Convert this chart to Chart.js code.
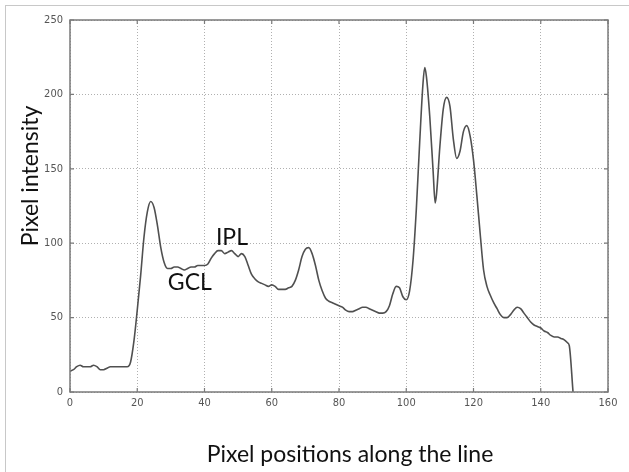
<!DOCTYPE html>
<html><head><meta charset="utf-8">
<script src="https://cdn.jsdelivr.net/npm/chart.js@4/dist/chart.umd.min.js"></script>
<style>
html,body{margin:0;padding:0;background:#fff;}
#frame{position:absolute;left:5px;top:5px;width:624px;height:467px;border-left:1px solid #c8c8c8;border-top:1px solid #c8c8c8;}
#wrap{position:absolute;left:0;top:0;width:629px;height:472px;}
</style></head><body>
<div id="frame"></div>
<div id="wrap"><canvas id="c" width="629" height="472"></canvas></div>
<script>
const positions = [0,1,2,3,4,5,6,7,8,9,10,11,12,13,14,15,16,17,18,19,20,21,22,23,24,25,26,27,28,29,30,31,32,33,34,35,36,37,38,39,40,41,42,43,44,45,46,47,48,49,50,51,52,53,54,55,56,57,58,59,60,61,62,63,64,65,66,67,68,69,70,71,72,73,74,75,76,77,78,79,80,81,82,83,84,85,86,87,88,89,90,91,92,93,94,95,96,97,98,99,100,101,102,103,104,105,105.5,106,107,108,108.6,109,110,111,112,113,114,115,116,117,118,119,120,121,122,123,124,125,126,127,128,129,130,131,132,133,134,135,136,137,138,139,140,141,142,143,144,145,146,147,148,148.5,149.6];
const intensity = [14,15,17,18,17,17,17,18,17,15,15,16,17,17,17,17,17,17,20,34,55,78,104,121,128,124,112,97,87,83,83,84,84,83,82,83,84,84,85,85,85,86,90,93,95,95,93,94,95,93,91,93,91,85,79,76,74,73,72,71,72,71,69,69,69,70,71,75,82,91,96,97,93,85,75,68,63,61,60,59,58,57,55,54,54,55,56,57,57,56,55,54,53,53,54,58,66,71,70,64,62,68,88,123,168,208,218,212,185,148,127,133,165,190,198,192,170,157,162,175,179,172,156,132,106,82,71,65,60,56,52,50,50,52,55,57,56,53,50,47,45,44,43,41,40,38,37,37,36,35,33,31,0];
const xTickValues = [0,20,40,60,80,100,120,140,160];
const yTickValues = [0,50,100,150,200,250];
const xTitle = 'Pixel positions along the line';
const yTitle = 'Pixel intensity';
const noteTexts = ['GCL','IPL'];
const noteX = [29.1, 43.4];
const noteY = [68.4, 98.5];

const tickFont = {family:"'Liberation Sans Narrow','DejaVu Sans Condensed','Liberation Sans',sans-serif", size:11};
const titleFont = "23px Lato, 'Open Sans', sans-serif";
const noteFont = "23px Lato, 'Open Sans', sans-serif";
const boxColor = '#7a7a7a';

const overlay = {
  id:'overlay',
  afterDraw(chart){
    const ctx = chart.ctx, a = chart.chartArea;
    const xs = chart.scales.x, ys = chart.scales.y;
    ctx.save();
    ctx.strokeStyle = boxColor; ctx.lineWidth = 1.5; ctx.setLineDash([]);
    ctx.strokeRect(a.left, a.top, a.right-a.left, a.bottom-a.top);
    ctx.lineWidth = 1.2;
    ctx.beginPath();
    xTickValues.forEach(v=>{ const p = xs.getPixelForValue(v);
      ctx.moveTo(p, a.top); ctx.lineTo(p, a.top+4);
      ctx.moveTo(p, a.bottom); ctx.lineTo(p, a.bottom-4); });
    yTickValues.forEach(v=>{ const p = ys.getPixelForValue(v);
      ctx.moveTo(a.left, p); ctx.lineTo(a.left+4, p);
      ctx.moveTo(a.right, p); ctx.lineTo(a.right-4, p); });
    ctx.stroke();
    ctx.fillStyle = '#111';
    ctx.font = noteFont;
    ctx.textAlign = 'left'; ctx.textBaseline = 'alphabetic';
    noteTexts.forEach((t,i)=>{
      ctx.fillText(t, xs.getPixelForValue(noteX[i]), ys.getPixelForValue(noteY[i]));
    });
    ctx.font = titleFont;
    ctx.textAlign = 'center'; ctx.textBaseline = 'middle';
    ctx.fillText(xTitle, 350, 455);
    ctx.translate(31, 176); ctx.rotate(-Math.PI/2);
    ctx.fillText(yTitle, 0, 0);
    ctx.restore();
  }
};

new Chart(document.getElementById('c'), {
  type:'line',
  data:{ datasets:[{
    data: positions.map((p,i)=>({x:p, y:intensity[i]})),
    borderColor:'#505050', borderWidth:1.6, pointRadius:0,
    cubicInterpolationMode:'monotone', fill:false
  }]},
  options:{
    responsive:false, animation:false, devicePixelRatio:1,
    layout:{padding:{top:20,right:21,left:0,bottom:0}},
    plugins:{legend:{display:false}, tooltip:{enabled:false}},
    scales:{
      x:{type:'linear', min:0, max:160,
        afterFit(s){ s.height = 80; },
        afterBuildTicks(s){ s.ticks = xTickValues.map(v=>({value:v})); },
        ticks:{color:'#555', font:tickFont, padding:5, maxRotation:0},
        grid:{color:'#b0b0b0', lineWidth:1, drawTicks:false},
        border:{display:false, dash:[1,2]}},
      y:{type:'linear', min:0, max:250,
        afterFit(s){ s.width = 70; },
        afterBuildTicks(s){ s.ticks = yTickValues.map(v=>({value:v})); },
        ticks:{color:'#555', font:tickFont, padding:7},
        grid:{color:'#b0b0b0', lineWidth:1, drawTicks:false},
        border:{display:false, dash:[1,2]}}
    }
  },
  plugins:[overlay]
});
</script>
</body></html>
